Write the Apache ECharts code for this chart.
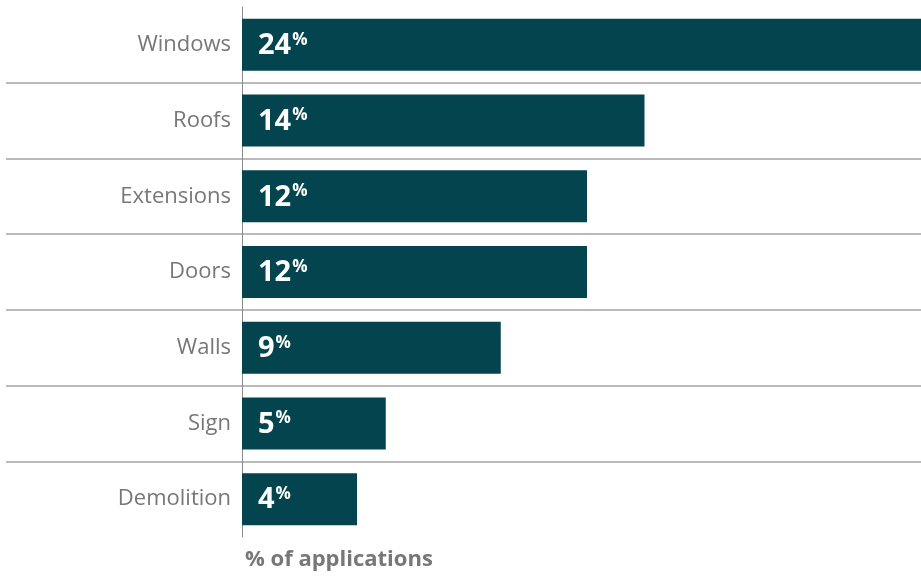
<!DOCTYPE html>
<html>
<head>
<meta charset="utf-8">
<script src="https://cdn.jsdelivr.net/npm/echarts@6/dist/echarts.min.js"></script>
<style>
  html, body { margin: 0; padding: 0; background: #ffffff; }
  #chart { width: 921px; height: 576px; }
</style>
</head>
<body>
<div id="chart"></div>
<script>
// Share of applications by type of work
const categories = ['Windows', 'Roofs', 'Extensions', 'Doors', 'Walls', 'Sign', 'Demolition'];
const shares = [24, 14, 12, 12, 9, 5, 4];
const axisTitle = '% of applications';

const FONT = '"Open Sans", "Noto Sans", sans-serif';
const BAR = '#03444F';
const GREY = '#777777';

const chart = echarts.init(document.getElementById('chart'), null, { renderer: 'canvas' });

chart.setOption({
  animation: false,
  backgroundColor: '#ffffff',
  title: {
    text: axisTitle,
    left: 245,
    top: 549,
    padding: 0,
    textStyle: { fontFamily: FONT, fontSize: 22, fontWeight: 'bold', color: GREY }
  },
  grid: [
    // full-width band for the row separators
    { left: 6, right: 0, top: 7, bottom: 39, containLabel: false, outerBoundsMode: 'none' },
    // plot area for the bars
    { left: 242, right: -11, top: 7, bottom: 39, containLabel: false, outerBoundsMode: 'none' }
  ],
  xAxis: [
    { type: 'value', gridIndex: 0, min: 0, max: 1, show: false },
    { type: 'value', gridIndex: 1, min: 0, max: 24, show: false }
  ],
  yAxis: [
    {
      type: 'category',
      gridIndex: 0,
      data: categories,
      inverse: true,
      axisLine: { show: false },
      axisTick: { show: false },
      axisLabel: { show: false },
      splitLine: {
        show: true,
        showMinLine: false,
        showMaxLine: false,
        lineStyle: { color: '#a3a3a3', width: 1.5 }
      }
    },
    {
      type: 'category',
      gridIndex: 1,
      data: categories,
      inverse: true,
      axisLine: { show: true, lineStyle: { color: '#8a8a8a', width: 1 } },
      axisTick: { show: false },
      axisLabel: { fontFamily: FONT, fontSize: 22, color: GREY, margin: 11, padding: [4, 0, 0, 0] },
      splitLine: { show: false }
    }
  ],
  series: [{
    type: 'bar',
    xAxisIndex: 1,
    yAxisIndex: 1,
    data: shares,
    barWidth: 52,
    itemStyle: { color: BAR },
    label: {
      show: true,
      position: 'insideLeft',
      distance: 16,
      formatter: '{n|{c}}{p|%}',
      rich: {
        n: { fontFamily: FONT, fontSize: 29, fontWeight: 'bold', color: '#ffffff', lineHeight: 34, padding: [2, 0, 0, 0] },
        p: { fontFamily: FONT, fontSize: 17, fontWeight: 'bold', color: '#ffffff', padding: [0, 0, 10, 1] }
      }
    }
  }]
});
</script>
</body>
</html>
